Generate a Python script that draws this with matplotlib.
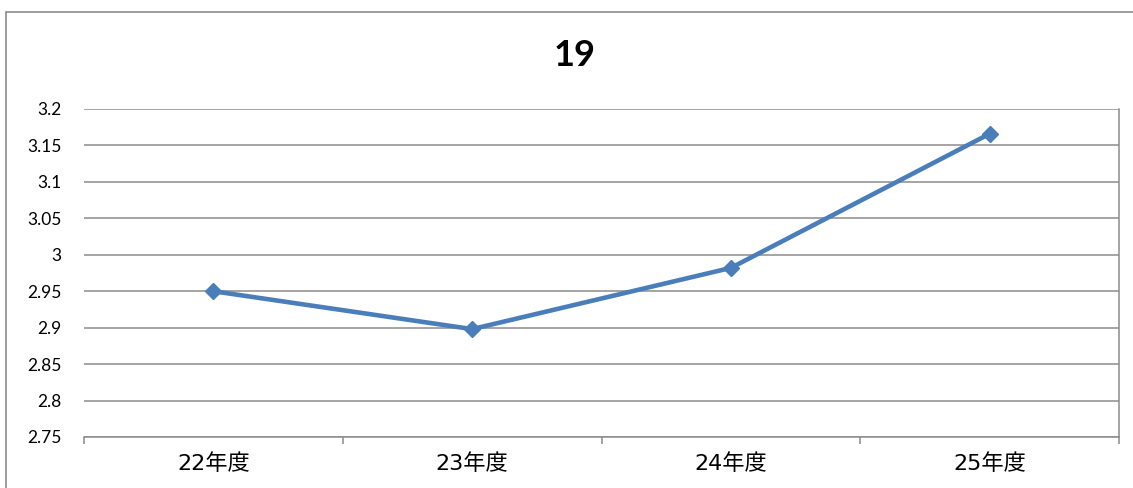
import matplotlib
matplotlib.use("Agg")
import matplotlib.pyplot as plt
from matplotlib.patches import Rectangle

categories = ["22年度", "23年度", "24年度", "25年度"]
values = [2.950, 2.898, 2.982, 3.166]
yticks = [2.75, 2.8, 2.85, 2.9, 2.95, 3.0, 3.05, 3.1, 3.15, 3.2]
ytick_labels = ["2.75", "2.8", "2.85", "2.9", "2.95", "3", "3.05", "3.1", "3.15", "3.2"]
title = "19"

W, H = 1133, 488
fig = plt.figure(figsize=(W / 100, H / 100), dpi=100)
fig.patch.set_facecolor("white")

# outer chart frame (extends beyond right and bottom edges)
frame = Rectangle((6 / W, -0.05), 1.2, 1 - 12 / H + 0.05, transform=fig.transFigure,
                  fill=False, edgecolor="#8c8c8c", linewidth=1.2, zorder=0)
fig.patches.append(frame)

left, right, top, bottom = 84, 1119, 109, 437
ax = fig.add_axes([left / W, (H - bottom) / H, (right - left) / W, (bottom - top) / H])

x = list(range(len(categories)))
ax.plot(x, values, color="#4a7ebb", linewidth=3.3, marker="D", markersize=8.5,
        markerfacecolor="#4a7ebb", markeredgecolor="#4a7ebb", zorder=3, clip_on=False)

ax.set_xlim(-0.5, len(categories) - 0.5)
ax.set_ylim(2.75, 3.2)
ax.set_yticks(yticks)
ax.set_yticklabels(ytick_labels, fontfamily="Lato", fontsize=12.5)
ax.yaxis.grid(True, color="#8c8c8c", linewidth=1.1)
ax.set_axisbelow(True)
ax.tick_params(axis="y", length=0, pad=16)

# category boundary ticks
ax.set_xticks([i - 0.5 for i in range(len(categories) + 1)])
ax.set_xticklabels([])
ax.tick_params(axis="x", length=5, width=1.1, color="#8c8c8c", direction="out")
ax.set_xticks(x, minor=True)
ax.set_xticklabels(categories, minor=True, fontfamily=["DejaVu Sans", "Noto Sans CJK JP"], fontsize=16)
ax.tick_params(axis="x", which="minor", length=0, pad=12)

for s in ["top", "left"]:
    ax.spines[s].set_visible(False)
ax.spines["bottom"].set_color("#8c8c8c")
ax.spines["bottom"].set_linewidth(1.1)
ax.spines["right"].set_color("#8c8c8c")
ax.spines["right"].set_linewidth(1.1)

fig.text(575 / W, 1 - 56 / H, title, ha="center", va="center", fontfamily="Lato",
         fontweight="bold", fontsize=26)

fig.savefig("out.png", dpi=100)
